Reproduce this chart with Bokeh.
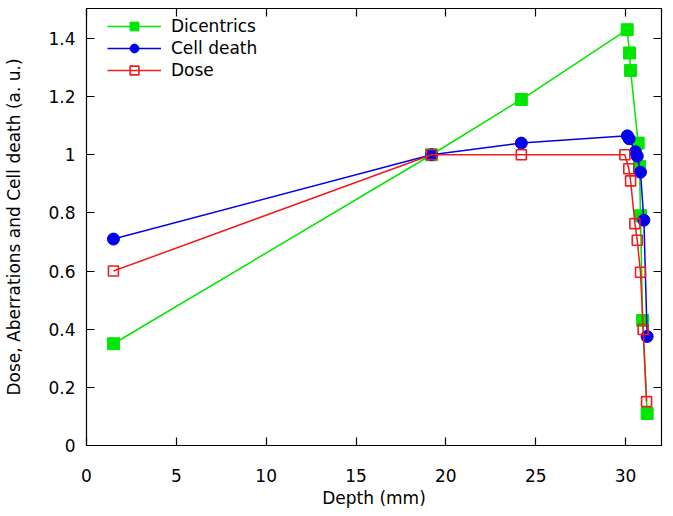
from bokeh.plotting import figure
from bokeh.models import Range1d, FixedTicker, LinearAxis, Legend, CustomLabelingPolicy
from bokeh.embed import file_html
from bokeh.resources import INLINE

# ---- data ----
dic_depth = [1.5, 19.2, 24.2, 30.09, 30.22, 30.28, 30.7, 30.78, 30.83, 30.95, 31.2]
dic_value = [0.35, 1.0, 1.19, 1.43, 1.35, 1.29, 1.04, 0.96, 0.79, 0.43, 0.11]

cd_depth = [1.5, 19.2, 24.2, 30.1, 30.2, 30.55, 30.65, 30.83, 31.02, 31.2]
cd_value = [0.71, 1.0, 1.04, 1.065, 1.055, 1.01, 0.995, 0.94, 0.775, 0.375]

dose_depth = [1.5, 19.2, 24.2, 29.96, 30.18, 30.28, 30.52, 30.65, 30.83, 30.98, 31.17]
dose_value = [0.60, 1.0, 1.0, 1.0, 0.952, 0.91, 0.763, 0.706, 0.596, 0.399, 0.151]

x_ticks = [0, 5, 10, 15, 20, 25, 30]
y_ticks = [0, 0.2, 0.4, 0.6, 0.8, 1, 1.2, 1.4]
y_tick_labels = ["0", "0.2", "0.4", "0.6", "0.8", "1", "1.2", "1.4"]

FONT = "DejaVu Sans"
FS = "17px"
GREEN = "#00e600"
BLUE = "#0000f0"
RED = "#ee1c1c"

p = figure(frame_width=575, frame_height=437, output_backend="svg",
           toolbar_location=None, x_range=Range1d(0, 32), y_range=Range1d(0, 1.503),
           min_border_left=86, min_border_top=8, min_border_right=4, min_border_bottom=0)
p.grid.visible = False
p.outline_line_color = "black"
p.background_fill_color = "white"

def style_axis(ax, fs=FS):
    ax.major_tick_in = 8
    ax.major_tick_out = 0
    ax.minor_tick_line_color = None
    ax.axis_line_color = "black"
    ax.axis_line_width = 1.2
    ax.major_tick_line_color = "black"
    ax.major_tick_line_width = 1.2
    ax.major_label_text_font = FONT
    ax.major_label_text_font_size = fs
    ax.major_label_text_color = "black"
    ax.axis_label_text_font = FONT
    ax.axis_label_text_font_size = FS
    ax.axis_label_text_font_style = "normal"
    ax.axis_label_text_color = "black"

xa = p.xaxis[0]
ya = p.yaxis[0]
xa.ticker = FixedTicker(ticks=x_ticks)
ya.ticker = FixedTicker(ticks=y_ticks)
ya.major_label_overrides = {t: l for t, l in zip(y_ticks, y_tick_labels)}
style_axis(xa)
style_axis(ya)
xa.axis_label = "Depth (mm)"
ya.axis_label = "Dose, Aberrations and Cell death (a. u.)"
xa.major_label_standoff = 23
xa.axis_label_standoff = 3
ya.major_label_standoff = 11
ya.axis_label_standoff = 21

top = LinearAxis(ticker=FixedTicker(ticks=x_ticks),
                 major_label_policy=CustomLabelingPolicy(code="return new Set()"))
style_axis(top, "1px")
top.major_label_standoff = 0
right = LinearAxis(ticker=FixedTicker(ticks=y_ticks),
                   major_label_policy=CustomLabelingPolicy(code="return new Set()"))
style_axis(right, "1px")
right.major_label_standoff = 0
p.add_layout(top, "above")
p.add_layout(right, "right")

l1 = p.line(dic_depth, dic_value, line_color=GREEN, line_width=1.5)
s1 = p.scatter(dic_depth, dic_value, marker="square", size=12, fill_color=GREEN, line_color=GREEN)
l2 = p.line(cd_depth, cd_value, line_color=BLUE, line_width=1.5)
s2 = p.scatter(cd_depth, cd_value, marker="circle", size=12, fill_color=BLUE, line_color=BLUE)
l3 = p.line(dose_depth, dose_value, line_color=RED, line_width=1.5)
s3 = p.scatter(dose_depth, dose_value, marker="square", size=10, fill_color=None,
               line_color=RED, line_width=1.6)

legend = Legend(items=[("Dicentrics", [l1, s1]), ("Cell death", [l2, s2]), ("Dose", [l3, s3])],
                location=(21, 364), padding=0, margin=0, spacing=0,
                glyph_width=54, glyph_height=22, label_height=22, label_standoff=10,
                label_text_font=FONT, label_text_font_size=FS, label_text_color="black",
                border_line_color=None, background_fill_alpha=0)
p.add_layout(legend)

open("out.html", "w").write(file_html(p, INLINE))
